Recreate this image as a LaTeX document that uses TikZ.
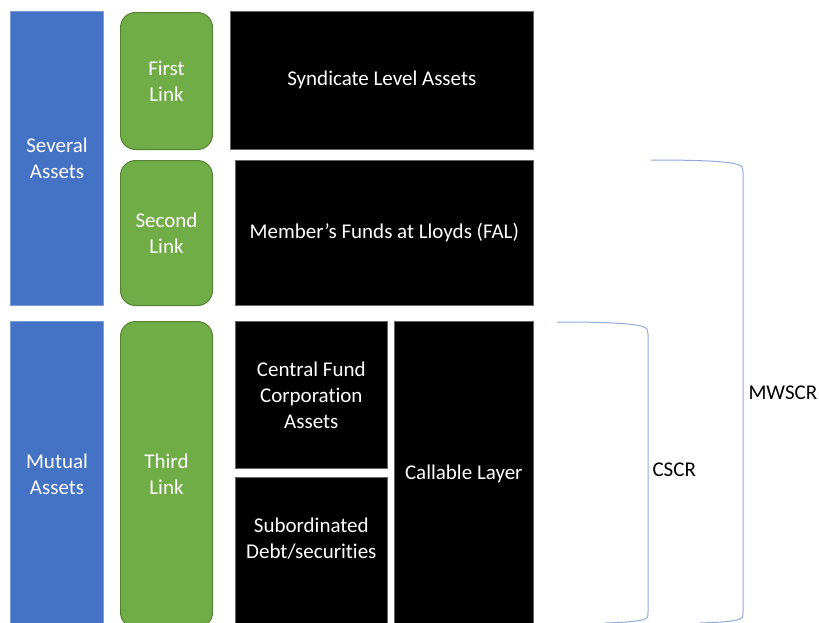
\documentclass[tikz,border=0pt]{standalone}
\usepackage{fontspec}
\setmainfont[RawFeature=-liga]{Carlito}
\usetikzlibrary{positioning}
\definecolor{assetblue}{HTML}{4472C4}
\definecolor{assetedge}{HTML}{7A9BD6}
\definecolor{linkgreen}{HTML}{70AD47}
\definecolor{linkedge}{HTML}{548235}
\definecolor{bracecol}{HTML}{8FAADC}
\tikzset{
  boxtext/.style={text=white, align=center, font=\fontsize{21}{26}\selectfont},
  assetbox/.style={boxtext, fill=assetblue, draw=assetedge, line width=1pt, anchor=north west, minimum width=93pt, inner sep=0pt},
  linkbox/.style={boxtext, fill=linkgreen, draw=linkedge, line width=1pt, rounded corners=15pt, anchor=north west, minimum width=92pt, inner sep=0pt},
  layerbox/.style={boxtext, fill=black, draw=black!60, line width=.6pt, anchor=north west, inner sep=0pt},
  bracelab/.style={text=black, font=\fontsize{21}{26}\selectfont},
  brace/.style={draw=bracecol, line width=1pt}
}
\begin{document}
\begin{tikzpicture}[x=1pt,y=-1pt]
  \useasboundingbox (0,0) rectangle (819,622);
  \clip (0,0) rectangle (819,622);

  % ------ assets ------
  \node[assetbox, minimum height=294pt] (several) at (10,11) {Several\\Assets};
  \node[assetbox, minimum height=306pt] (mutual) at (10,321) {Mutual\\Assets};

  % ------ links ------
  \node[linkbox, minimum height=137pt] (first) at (120,12) {First\\Link};
  \node[linkbox, minimum height=145pt] (second) at (120,160) {Second\\Link};
  \node[linkbox, minimum height=306pt] (third) at (120,321) {Third\\Link};

  % ------ layers ------
  \node[layerbox, minimum width=303pt, minimum height=138pt] (syndicate) at (230,11) {Syndicate Level Assets};
  \node[layerbox, minimum width=298pt, minimum height=145pt] (fal) at (235,160) {Member’s Funds at Lloyds (FAL)};
  \node[layerbox, minimum width=152pt, minimum height=147pt] (central) at (235,321) {Central Fund\\Corporation\\Assets};
  \node[layerbox, minimum width=152pt, minimum height=150pt] (subdebt) at (235,477) {};
  \node[boxtext] at ([yshift=-62pt]subdebt.north) {Subordinated\\Debt/securities};
  \node[layerbox, minimum width=139pt, minimum height=306pt] (callable) at (394,321) {Callable Layer};

  % ------ brackets ------
  \draw[brace] (557,322) .. controls (600,322) and (635,323) .. (644,327)
    .. controls (647,328) .. (648,334) -- (648,612)
    .. controls (648,618) .. (642,620) .. controls (630,622) .. (605,623);
  \draw[brace] (651,160) .. controls (695,160) and (730,161) .. (739,165)
    .. controls (742,166) .. (743,172) -- (743,612)
    .. controls (743,618) .. (737,620) .. controls (725,622) .. (700,623);
  \node[bracelab, anchor=west] (cscr) at (649,470) {CSCR};
  \node[bracelab, anchor=west] (mwscr) at (745,393) {MWSCR};
\end{tikzpicture}
\end{document}
